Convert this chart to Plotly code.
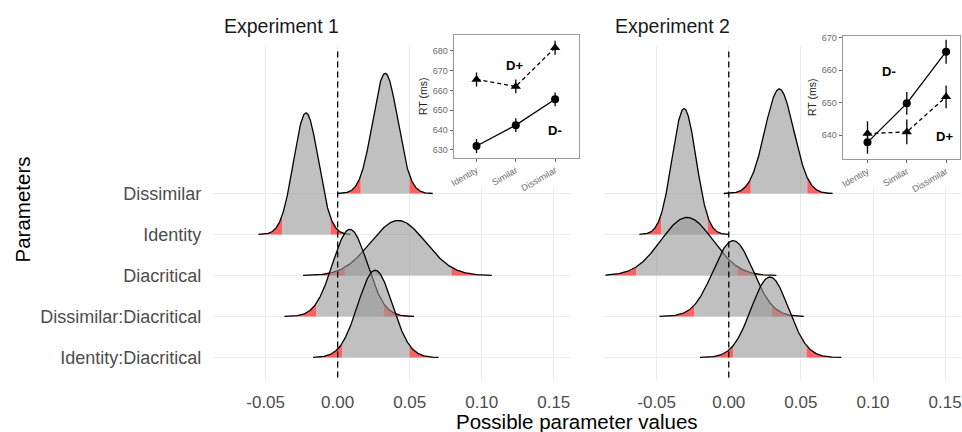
import numpy as np
import plotly.graph_objects as go

# ---------------- data ----------------
param_labels = ["Dissimilar", "Identity", "Diacritical", "Dissimilar:Diacritical", "Identity:Diacritical"]
param_pos = [5, 4, 3, 2, 1]

x_tickvals = [-0.05, 0.0, 0.05, 0.10, 0.15]
x_ticktext = ["-0.05", "0.00", "0.05", "0.10", "0.15"]

# posterior summaries (mean, sd), plotted extent and 95% interval
exp1_mean = [0.033, -0.022, 0.042, 0.0085, 0.026]
exp1_sd = [0.0087, 0.0086, 0.019, 0.012, 0.012]
exp1_lo = [0.000, -0.055, -0.024, -0.037, -0.017]
exp1_hi = [0.066, 0.009, 0.107, 0.053, 0.070]
exp1_q025 = [0.016, -0.0386, 0.005, -0.015, 0.003]
exp1_q975 = [0.050, -0.0048, 0.079, 0.032, 0.050]

exp2_mean = [0.035, -0.031, -0.029, 0.003, 0.0285]
exp2_sd = [0.010, 0.0083, 0.018, 0.0138, 0.013]
exp2_lo = [-0.0035, -0.062, -0.0855, -0.048, -0.020]
exp2_hi = [0.072, 0.000, 0.033, 0.052, 0.078]
exp2_q025 = [0.0152, -0.047, -0.064, -0.024, 0.003]
exp2_q975 = [0.0545, -0.0145, 0.006, 0.030, 0.054]

# inset data (RT in ms)
inset_cats = ["Identity", "Similar", "Dissimilar"]
exp1_dminus = [632.0, 642.5, 655.5]
exp1_dminus_err = [3.5, 3.5, 3.5]
exp1_dplus = [665.5, 662.0, 681.5]
exp1_dplus_err = [3.5, 3.5, 3.5]
exp2_dminus = [637.8, 649.8, 665.7]
exp2_dminus_err = [3.5, 3.5, 3.7]
exp2_dplus = [640.5, 641.0, 651.8]
exp2_dplus_err = [3.8, 3.8, 3.5]

# ---------------- style ----------------
W, H = 962, 432
FONT = "Liberation Sans, Arial, sans-serif"
SCALE = 0.064
GRAY_FILL = "rgba(150,150,150,0.6)"
RED_FILL = "rgba(255,0,0,0.62)"
GRID = "#ebebeb"
TICKC = "#4d4d4d"


def fx(p):
    return p / W


def fy(p):
    return 1 - p / H


def pdf(x, m, s):
    return np.exp(-0.5 * ((x - m) / s) ** 2) / (s * np.sqrt(2 * np.pi))


fig = go.Figure()


def add_ridges(xa, ya, means, sds, los, his, qlos, qhis):
    for i in range(len(means)):
        m, s, lo, hi, ql, qh = means[i], sds[i], los[i], his[i], qlos[i], qhis[i]
        base = param_pos[i]
        segs = [(lo, ql, RED_FILL), (ql, qh, GRAY_FILL), (qh, hi, RED_FILL)]
        for a, b, col in segs:
            xs = np.linspace(a, b, 120)
            ys = base + SCALE * pdf(xs, m, s)
            px = list(xs) + [b, a]
            py = list(ys) + [base, base]
            fig.add_trace(go.Scatter(x=px, y=py, fill="toself", fillcolor=col,
                                     line=dict(width=0), mode="lines", hoverinfo="skip",
                                     showlegend=False, xaxis=xa, yaxis=ya))
        xs = np.linspace(lo, hi, 300)
        ys = base + SCALE * pdf(xs, m, s)
        fig.add_trace(go.Scatter(x=xs, y=ys, mode="lines", line=dict(color="black", width=1.3),
                                 hoverinfo="skip", showlegend=False, xaxis=xa, yaxis=ya))


add_ridges("x", "y", exp1_mean, exp1_sd, exp1_lo, exp1_hi, exp1_q025, exp1_q975)
add_ridges("x2", "y2", exp2_mean, exp2_sd, exp2_lo, exp2_hi, exp2_q025, exp2_q975)

# background subplots for the inset label strips (white areas)
for xa, ya in [("x3", "y3"), ("x4", "y4")]:
    fig.add_trace(go.Scatter(x=[None], y=[None], xaxis=xa, yaxis=ya, showlegend=False))


def add_inset(xa, ya, dm, dme, dp, dpe):
    xs = [1, 2, 3]
    fig.add_trace(go.Scatter(x=xs, y=dm, mode="lines+markers",
                             line=dict(color="black", width=1.3),
                             marker=dict(symbol="circle", size=8, color="black"),
                             error_y=dict(type="data", array=dme, color="black", thickness=1.3, width=0),
                             showlegend=False, xaxis=xa, yaxis=ya))
    fig.add_trace(go.Scatter(x=xs, y=dp, mode="lines+markers",
                             line=dict(color="black", width=1.3, dash="4px,3px"),
                             marker=dict(symbol="triangle-up", size=9, color="black"),
                             error_y=dict(type="data", array=dpe, color="black", thickness=1.3, width=0),
                             showlegend=False, xaxis=xa, yaxis=ya))


add_inset("x5", "y5", exp1_dminus, exp1_dminus_err, exp1_dplus, exp1_dplus_err)
add_inset("x6", "y6", exp2_dminus, exp2_dminus_err, exp2_dplus, exp2_dplus_err)

main_x = dict(tickvals=x_tickvals, ticktext=x_ticktext, showgrid=True, gridcolor=GRID, gridwidth=1.2,
              zeroline=False, showline=False, ticks="outside", ticklen=6, tickcolor="rgba(0,0,0,0)",
              ticklabeloverflow="allow",
              tickfont=dict(family=FONT, size=17, color=TICKC))
main_y_dom = [fy(380), fy(43)]
main_y_rng = [0.44, 8.61]

layout = dict(
    width=W, height=H, margin=dict(l=0, r=0, t=0, b=0),
    paper_bgcolor="white", plot_bgcolor="white", showlegend=False,
    xaxis=dict(domain=[fx(210), fx(570)], range=[-0.0866, 0.162], anchor="y", **main_x),
    yaxis=dict(domain=main_y_dom, range=main_y_rng, anchor="x", tickvals=param_pos, ticktext=param_labels,
               showgrid=True, gridcolor=GRID, gridwidth=1.2, zeroline=False, showline=False,
               ticks="outside", ticklen=7, tickcolor="rgba(0,0,0,0)",
               tickfont=dict(family=FONT, size=18, color=TICKC)),
    xaxis2=dict(domain=[fx(603), 1.0], range=[-0.0866, -0.0866 + 359 / 1450], anchor="y2", **main_x),
    yaxis2=dict(domain=main_y_dom, range=main_y_rng, anchor="x2", tickvals=param_pos,
                showticklabels=False, showgrid=True, gridcolor=GRID, gridwidth=1.2, zeroline=False),
    xaxis3=dict(domain=[fx(440), fx(580)], anchor="y3", visible=False, range=[0, 1]),
    yaxis3=dict(domain=[fy(186), fy(150)], anchor="x3", visible=False, range=[0, 1]),
    xaxis4=dict(domain=[fx(838), 1.0], anchor="y4", visible=False, range=[0, 1]),
    yaxis4=dict(domain=[fy(186), fy(150)], anchor="x4", visible=False, range=[0, 1]),
)

inset_x = dict(tickvals=[1, 2, 3], ticktext=inset_cats, tickangle=-30, showgrid=False, zeroline=False,
               showline=True, mirror=True, linecolor="#9a9a9a", linewidth=1,
               ticks="outside", ticklen=3, tickcolor="#666",
               tickfont=dict(family=FONT, size=9, color="#6b6b6b"))
inset_y = dict(showgrid=False, zeroline=False, showline=True, mirror=True, linecolor="#9a9a9a", linewidth=1,
               ticks="outside", ticklen=3, tickcolor="#666",
               tickfont=dict(family=FONT, size=9, color="#6b6b6b"),
               title=dict(text="RT (ms)", font=dict(family=FONT, size=10.5, color="#222"), standoff=3))

layout["xaxis5"] = dict(domain=[fx(452), fx(578)], range=[0.418, 3.608], anchor="y5", **inset_x)
layout["yaxis5"] = dict(domain=[fy(156), fy(32)], range=[626, 688], anchor="x5",
                        tickvals=[630, 640, 650, 660, 670, 680], **inset_y)
layout["xaxis6"] = dict(domain=[fx(843), fx(961)], range=[0.367, 3.354], anchor="y6", **inset_x)
layout["yaxis6"] = dict(domain=[fy(157), fy(33)], range=[632.7, 670.6], anchor="x6",
                        tickvals=[640, 650, 660, 670], **inset_y)

fig.update_layout(**layout)

# dashed zero lines
for xr, yr in [("x", "y"), ("x2", "y2")]:
    fig.add_shape(type="line", xref=xr, yref=yr, x0=0, x1=0, y0=main_y_rng[0] + 0.07, y1=main_y_rng[1] - 0.1,
                  line=dict(color="black", width=1.3, dash="6px,4px"), layer="above")

ann = [
    dict(text="Experiment 1", x=fx(219), y=fy(23), xanchor="left", yanchor="middle",
         font=dict(family=FONT, size=19.5, color="#1a1a1a")),
    dict(text="Experiment 2", x=fx(612), y=fy(23), xanchor="left", yanchor="middle",
         font=dict(family=FONT, size=19.5, color="#1a1a1a")),
    dict(text="Possible parameter values", x=fx(576), y=fy(421), xanchor="center", yanchor="middle",
         font=dict(family=FONT, size=20.5, color="black")),
    dict(text="Parameters", x=fx(19), y=fy(208), xanchor="center", yanchor="middle", textangle=-90,
         font=dict(family=FONT, size=20.5, color="black")),
]
for a in ann:
    a.update(xref="paper", yref="paper", showarrow=False)
    fig.add_annotation(**a)

lbl_font = dict(family=FONT, size=13, color="black")
fig.add_annotation(text="<b>D+</b>", x=1.97, y=672.5, xref="x5", yref="y5", showarrow=False, font=lbl_font)
fig.add_annotation(text="<b>D-</b>", x=3.0, y=640, xref="x5", yref="y5", showarrow=False, font=lbl_font)
fig.add_annotation(text="<b>D-</b>", x=1.56, y=659.5, xref="x6", yref="y6", showarrow=False, font=lbl_font)
fig.add_annotation(text="<b>D+</b>", x=2.95, y=639.7, xref="x6", yref="y6", showarrow=False, font=lbl_font)

fig.write_html("out.html", config={"displayModeBar": False},
               post_script="document.body.style.margin='0';document.body.style.overflow='hidden';")
